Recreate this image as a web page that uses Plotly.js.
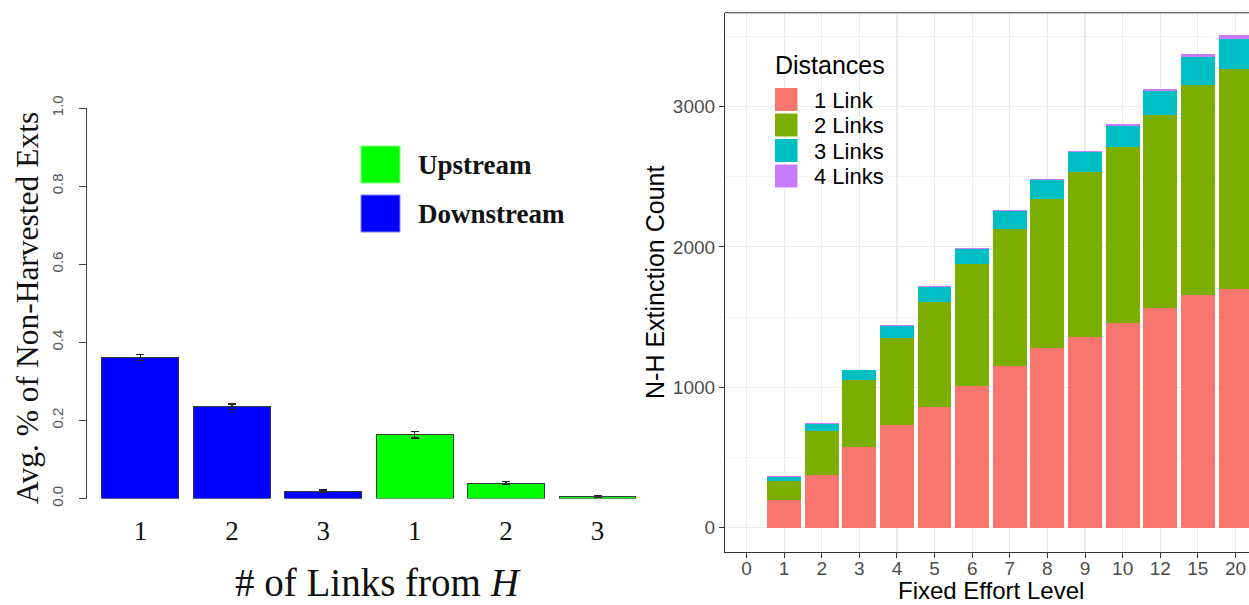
<!DOCTYPE html>
<html>
<head>
<meta charset="utf-8">
<script src="https://cdn.plot.ly/plotly-3.0.1.min.js"></script>
<style>
  html, body { margin: 0; padding: 0; background: #ffffff; }
  #chart { width: 1249px; height: 605px; }
</style>
</head>
<body>
<div id="chart"></div>
<script>
// ---- Left panel: average share of non-harvested extinctions by link distance ----
const linkLabels = ["1", "2", "3"];
const downstreamMeans = [0.361, 0.235, 0.019];
const downstreamErr = [0.008, 0.007, 0.003];
const upstreamMeans = [0.163, 0.039, 0.005];
const upstreamErr = [0.008, 0.004, 0.002];
const directionNames = ["Upstream", "Downstream"];
const directionColors = ["#00ff00", "#0000ff"];

// ---- Right panel: non-harvested extinction counts by fixed effort level ----
const effortLevels = ["0", "1", "2", "3", "4", "5", "6", "7", "8", "9", "10", "12", "15", "20"];
const barredLevels = ["1", "2", "3", "4", "5", "6", "7", "8", "9", "10", "12", "15", "20"];
const oneLink   = [197, 375, 572, 729, 862, 1011, 1152, 1280, 1356, 1460, 1563, 1657, 1702];
const twoLinks  = [136, 313, 478, 620, 748, 867, 975, 1063, 1177, 1249, 1374, 1496, 1565];
const threeLinks = [28, 47, 71, 85, 102, 107, 127, 133, 140, 154, 171, 199, 216];
const fourLinks = [7, 10, 3, 10, 9, 9, 9, 7, 10, 10, 19, 19, 23];
const distanceNames = ["1 Link", "2 Links", "3 Links", "4 Links"];
const distanceColors = ["#F8766D", "#7CAE00", "#00BFC4", "#C77CFF"];
const countTicks = [0, 1000, 2000, 3000];

// page-pixel helpers for paper-referenced decorations
const W = 1249, H = 605;
const px = x => x / W;
const py = y => 1 - y / H;

const serif = "Liberation Serif, Times New Roman, serif";
const sans = "Liberation Sans, Arial, sans-serif";

// left panel: downstream bars occupy slots 0-2, upstream bars slots 3-5
const downPos = linkLabels.map((_, i) => i);
const upPos = linkLabels.map((_, i) => i + linkLabels.length);

const traces = [
  {
    type: "bar", x: downPos, y: downstreamMeans, width: 0.842,
    marker: { color: directionColors[1], line: { color: "#3a3a3a", width: 1 } },
    error_y: { type: "data", array: downstreamErr, visible: true, color: "#222", thickness: 1.3, width: 4 },
    xaxis: "x", yaxis: "y", showlegend: false, hoverinfo: "y"
  },
  {
    type: "bar", x: upPos, y: upstreamMeans, width: 0.842,
    marker: { color: directionColors[0], line: { color: "#3a3a3a", width: 1 } },
    error_y: { type: "data", array: upstreamErr, visible: true, color: "#222", thickness: 1.3, width: 4 },
    xaxis: "x", yaxis: "y", showlegend: false, hoverinfo: "y"
  }
];

[oneLink, twoLinks, threeLinks, fourLinks].forEach((vals, k) => {
  traces.push({
    type: "bar", x: barredLevels, y: vals, width: 0.9, name: distanceNames[k],
    marker: { color: distanceColors[k], line: { width: 0 } },
    xaxis: "x2", yaxis: "y2", showlegend: false
  });
});

const shapes = [];
const annotations = [];

// left legend keys
const leftKeys = [[146, 183], [195, 232]];
directionNames.forEach((name, i) => {
  const [t, b] = leftKeys[i];
  shapes.push({
    type: "rect", xref: "paper", yref: "paper",
    x0: px(361), x1: px(400), y0: py(b), y1: py(t),
    fillcolor: directionColors[i], line: { color: i ? "#8080ff" : "#80ff80", width: 1 }
  });
  annotations.push({
    xref: "paper", yref: "paper", x: px(416), y: py((t + b) / 2 + 1),
    xanchor: "left", yanchor: "middle", showarrow: false,
    text: "<b>" + name + "</b>", font: { family: serif, size: 27, color: "#111" }
  });
});

// left axis titles
annotations.push({
  xref: "paper", yref: "paper", x: px(28), y: py(308), textangle: -90,
  xanchor: "center", yanchor: "middle", showarrow: false,
  text: "Avg. % of Non-Harvested Exts", font: { family: serif, size: 31.5, color: "#111" }
});
annotations.push({
  xref: "paper", yref: "paper", x: px(378), y: 0,
  xanchor: "center", yanchor: "bottom", showarrow: false, borderpad: 0,
  text: "# of Links from <i>H</i>", font: { family: serif, size: 39, color: "#111" }
});

// right panel: top border, legend background, keys and labels
shapes.push({
  type: "line", xref: "paper", yref: "paper",
  x0: px(725), x1: 1, y0: py(12.7), y1: py(12.7), line: { color: "#333333", width: 1.1 }
});
shapes.push({
  type: "rect", xref: "paper", yref: "paper", layer: "between",
  x0: px(764), x1: px(897), y0: py(197), y1: py(42),
  fillcolor: "#ffffff", line: { width: 0 }
});
annotations.push({
  xref: "paper", yref: "paper", x: px(773), y: py(65),
  xanchor: "left", yanchor: "middle", showarrow: false,
  text: "Distances", font: { family: sans, size: 25, color: "#000" }
});
const keyTops = [88, 113.5, 139, 164.5];
distanceNames.forEach((name, k) => {
  const t = keyTops[k];
  shapes.push({
    type: "rect", xref: "paper", yref: "paper",
    x0: px(775), x1: px(797.5), y0: py(t + 23), y1: py(t),
    fillcolor: distanceColors[k], line: { width: 0 }
  });
  annotations.push({
    xref: "paper", yref: "paper", x: px(812), y: py(t + 12),
    xanchor: "left", yanchor: "middle", showarrow: false,
    text: name, font: { family: sans, size: 22, color: "#000" }
  });
});

// right axis titles
annotations.push({
  xref: "paper", yref: "paper", x: px(655), y: py(283), textangle: -90,
  xanchor: "center", yanchor: "middle", showarrow: false,
  text: "N-H Extinction Count", font: { family: sans, size: 25, color: "#000" }
});
annotations.push({
  xref: "paper", yref: "paper", x: px(991), y: 0,
  xanchor: "center", yanchor: "bottom", showarrow: false, borderpad: 0,
  text: "Fixed Effort Level", font: { family: sans, size: 24, color: "#000" }
});

const layout = {
  width: W, height: H,
  margin: { l: 0, r: 0, t: 0, b: 0, pad: 0 },
  paper_bgcolor: "#ffffff", plot_bgcolor: "rgba(0,0,0,0)",
  barmode: "stack",
  showlegend: false,
  xaxis: {
    domain: [px(87), px(640)], range: [-0.585, 5.465],
    tickvals: downPos.concat(upPos), ticktext: linkLabels.concat(linkLabels),
    showgrid: false, zeroline: false, showline: false, ticks: "",
    ticklabelstandoff: 13,
    tickfont: { family: serif, size: 27, color: "#111" },
    anchor: "y", fixedrange: true
  },
  yaxis: {
    domain: [py(498.5), py(108)], range: [0, 1],
    tickvals: [0, 0.2, 0.4, 0.6, 0.8, 1.0], tickformat: ".1f",
    tickangle: -90, ticks: "outside", ticklen: 7, tickcolor: "#444", tickwidth: 1,
    showline: true, linecolor: "#444", linewidth: 1,
    showgrid: false, zeroline: false, ticklabelstandoff: 10,
    tickfont: { family: sans, size: 15, color: "#555" },
    anchor: "x", fixedrange: true
  },
  xaxis2: {
    type: "category", categoryorder: "array", categoryarray: effortLevels,
    tickvals: effortLevels,
    domain: [px(725), 1], range: [-0.572, 13.36],
    showgrid: true, gridcolor: "#ebebeb", gridwidth: 1.2,
    showline: true, linecolor: "#333333", linewidth: 1.1,
    ticks: "outside", ticklen: 5, tickcolor: "#333333",
    ticklabelstandoff: -6,
    tickfont: { family: sans, size: 19, color: "#4d4d4d" },
    zeroline: false, anchor: "y2", fixedrange: true
  },
  yaxis2: {
    domain: [py(551.7), py(12.7)], range: [-171, 3668],
    tickvals: countTicks,
    showgrid: true, gridcolor: "#ebebeb", gridwidth: 1.2,
    minor: { dtick: 500, tick0: 0, showgrid: true, gridcolor: "#f2f2f2", gridwidth: 1, ticks: "" },
    showline: true, linecolor: "#333333", linewidth: 1.1,
    ticks: "outside", ticklen: 5, tickcolor: "#333333",
    tickfont: { family: sans, size: 19, color: "#4d4d4d" },
    zeroline: false, anchor: "x2", fixedrange: true
  },
  shapes: shapes,
  annotations: annotations
};

Plotly.newPlot("chart", traces, layout, { displayModeBar: false, staticPlot: true });
</script>
</body>
</html>
